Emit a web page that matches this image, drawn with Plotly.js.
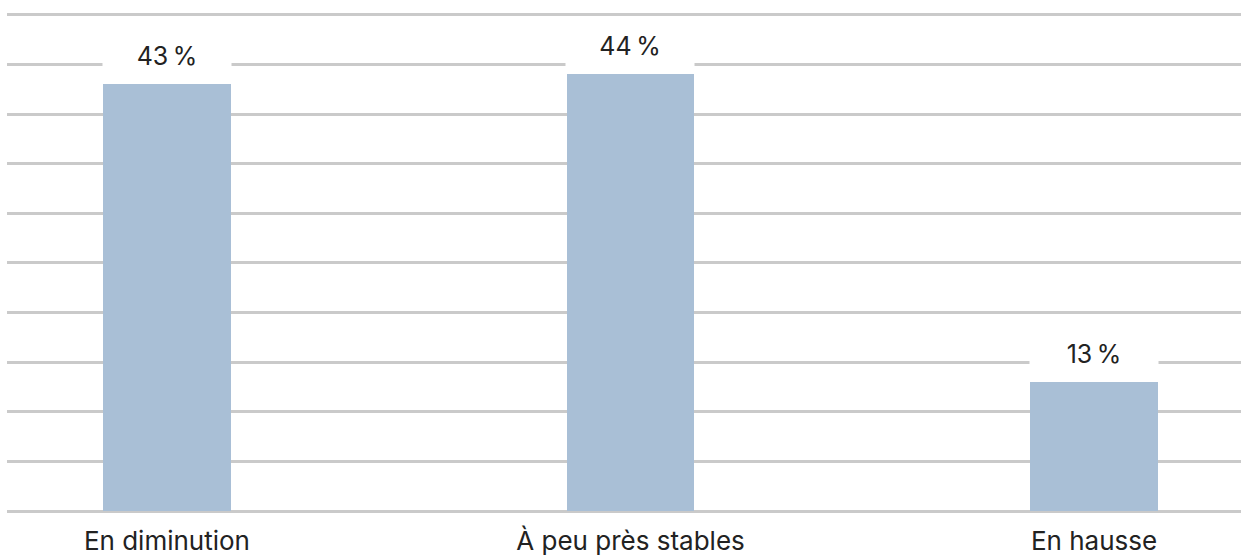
<!DOCTYPE html>
<html>
<head>
<meta charset="utf-8">
<script src="https://cdn.plot.ly/plotly-3.0.1.min.js"></script>
<style>html,body{margin:0;padding:0;background:#fff;}#chart{width:1241px;height:555px;}</style>
</head>
<body>
<div id="chart"></div>
<script>
const categories = ["En diminution", "À peu près stables", "En hausse"];
const values = [43, 44, 13];
const valueLabels = ["43\u202F%", "44\u202F%", "13\u202F%"];

const barColor = "#a9bfd6";
const gridColor = "#cacaca";
const textColor = "#222222";
const fontFamily = "Inter, 'Noto Sans', sans-serif";

const trace = {
  type: "bar",
  x: categories,
  y: values,
  width: 0.276,
  marker: { color: barColor },
  hoverinfo: "skip"
};

const annotations = categories.map((c, i) => ({
  x: c,
  y: values[i],
  xref: "x",
  yref: "y",
  text: valueLabels[i],
  showarrow: false,
  yanchor: "bottom",
  xanchor: "center",
  bgcolor: "#ffffff",
  width: 128,
  height: 54,
  borderpad: 0,
  font: { family: fontFamily, size: 25, color: textColor }
}));

const layout = {
  width: 1241,
  height: 555,
  margin: { l: 7, r: 0, t: 9.5, b: 44 },
  paper_bgcolor: "#ffffff",
  plot_bgcolor: "#ffffff",
  showlegend: false,
  bargap: 0,
  xaxis: {
    type: "category",
    range: [-0.345, 2.317],
    showgrid: false,
    zeroline: false,
    showline: false,
    ticks: "",
    ticklabelstandoff: 12,
    tickfont: { family: fontFamily, size: 26, color: textColor },
    fixedrange: true
  },
  yaxis: {
    range: [0, 50.5],
    tickvals: [0, 5, 10, 15, 20, 25, 30, 35, 40, 45, 50],
    showgrid: true,
    gridcolor: gridColor,
    gridwidth: 3,
    zeroline: true,
    zerolinecolor: gridColor,
    zerolinewidth: 3,
    showticklabels: false,
    ticks: "",
    fixedrange: true
  },
  annotations: annotations
};

Plotly.newPlot("chart", [trace], layout, { displayModeBar: false, staticPlot: true });
</script>
</body>
</html>
